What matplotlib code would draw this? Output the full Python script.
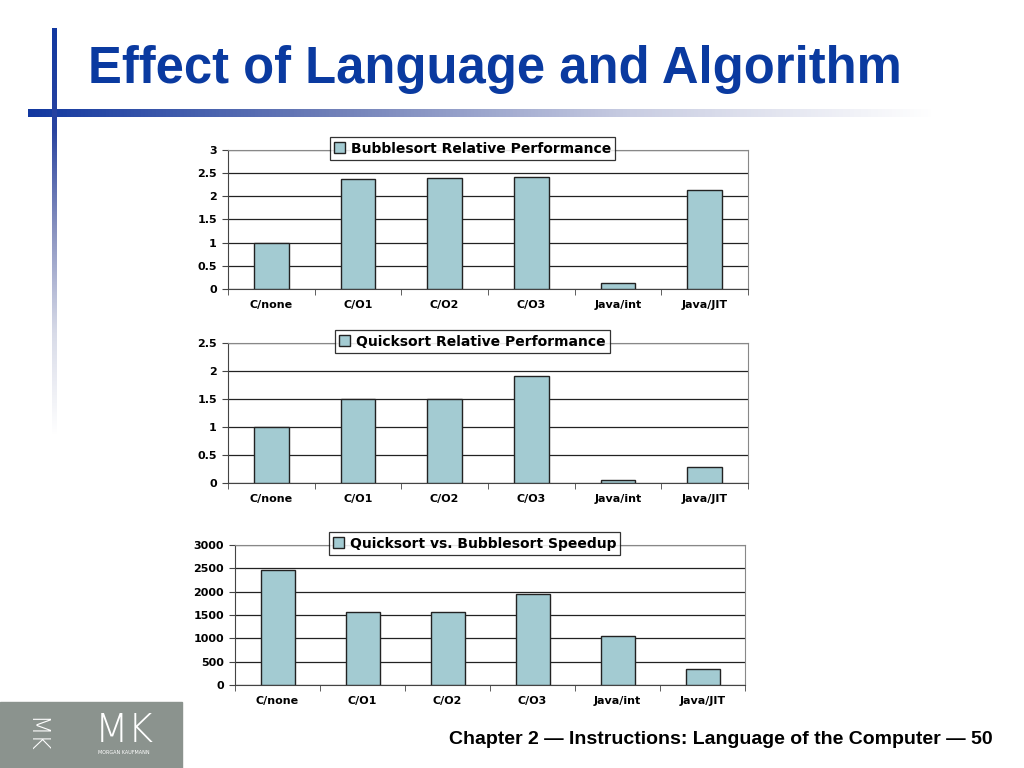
import matplotlib.pyplot as plt
import numpy as np
from matplotlib.patches import Rectangle

CATEGORIES = ["C/none", "C/O1", "C/O2", "C/O3", "Java/int", "Java/JIT"]
BUBBLE_PERF = [1.0, 2.37, 2.39, 2.41, 0.12, 2.13]
QUICK_PERF = [1.0, 1.50, 1.50, 1.91, 0.05, 0.29]
SPEEDUP = [2468, 1562, 1555, 1955, 1050, 338]

PANELS = [
    ("Bubblesort Relative Performance", BUBBLE_PERF, [0, 0.5, 1, 1.5, 2, 2.5, 3],
     ["0", "0.5", "1", "1.5", "2", "2.5", "3"]),
    ("Quicksort Relative Performance", QUICK_PERF, [0, 0.5, 1, 1.5, 2, 2.5],
     ["0", "0.5", "1", "1.5", "2", "2.5"]),
    ("Quicksort vs. Bubblesort Speedup", SPEEDUP, [0, 500, 1000, 1500, 2000, 2500, 3000],
     ["0", "500", "1000", "1500", "2000", "2500", "3000"]),
]

BAR_COLOR = "#a3cbd2"
TITLE_BLUE = "#0a3aa0"

W, H = 1024, 768
fig = plt.figure(figsize=(W / 100, H / 100), dpi=100)


def px_axes(left, top, right, bottom):
    return fig.add_axes([left / W, 1 - bottom / H, (right - left) / W, (bottom - top) / H])


# --- slide decoration -------------------------------------------------------
deco = fig.add_axes([0, 0, 1, 1])
deco.set_xlim(0, W)
deco.set_ylim(H, 0)
deco.axis("off")

# horizontal gradient bar under the title
hgrad = np.linspace(0, 1, 256).reshape(1, -1)
hcmap = plt.matplotlib.colors.LinearSegmentedColormap.from_list(
    "hb", ["#1238a0", "#6f7fb8", "#c9cde2", "#ffffff"])
deco.imshow(hgrad, cmap=hcmap, extent=(28, 935, 117, 109), aspect="auto")

# vertical gradient line on the left
vgrad = np.linspace(0, 1, 256).reshape(-1, 1)
vcmap = plt.matplotlib.colors.LinearSegmentedColormap.from_list(
    "vb", ["#1238a0", "#2a44a0", "#8a93c0", "#d8dbe8", "#ffffff"])
deco.imshow(vgrad, cmap=vcmap, extent=(52, 57, 435, 28), aspect="auto")

deco.text(88, 83, "Effect of Language and Algorithm", fontsize=36.5, fontweight="bold",
          color=TITLE_BLUE, family="Liberation Sans", va="baseline", ha="left")

# logo box bottom-left
deco.add_patch(Rectangle((0, 702), 182, 66, color="#8b938e"))
deco.text(124, 731, "MK", fontsize=28, color="white", family="DejaVu Sans",
          fontweight="light", ha="center", va="center")
deco.text(124, 752, "MORGAN KAUFMANN", fontsize=3.5, color="white", ha="center", va="center")
deco.text(35, 735, "MK", fontsize=17, color="white", rotation=-90,
          fontweight="light", ha="center", va="center")

deco.text(993, 739, "Chapter 2 \u2014 Instructions: Language of the Computer \u2014 50",
          fontsize=14, fontweight="bold", color="black", family="Liberation Sans",
          ha="right", va="center")

# --- the three bar charts ---------------------------------------------------
boxes = [(228, 150, 748, 289), (228, 343, 748, 483), (235, 545, 745, 685)]
x = np.arange(len(CATEGORIES))

for (label, values, yticks, ylabels), box in zip(PANELS, boxes):
    ax = px_axes(*box)
    ax.bar(x, values, width=0.4, color=BAR_COLOR, edgecolor="#222222", linewidth=1.0,
           label=label, zorder=3)
    ax.set_xlim(-0.5, len(CATEGORIES) - 0.5)
    ax.set_ylim(yticks[0], yticks[-1])
    ax.set_yticks(yticks)
    ax.set_yticklabels(ylabels)
    ax.set_xticks(x)
    ax.set_xticklabels(CATEGORIES)
    ax.set_xticks(np.arange(-0.5, len(CATEGORIES)), minor=True)
    ax.tick_params(axis="x", which="major", length=0, pad=8)
    ax.tick_params(axis="x", which="minor", length=4, direction="out", color="#444444")
    ax.tick_params(axis="y", length=4, direction="out", pad=4, color="#444444")
    for t in ax.get_xticklabels() + ax.get_yticklabels():
        t.set_fontsize(8)
        t.set_fontweight("bold")
        t.set_family("DejaVu Sans")
    ax.grid(axis="y", color="#222222", linewidth=0.9, zorder=0)
    ax.set_axisbelow(True)
    for side in ["top", "right"]:
        ax.spines[side].set_color("#888888")
        ax.spines[side].set_linewidth(0.8)
    ax.spines["left"].set_color("#444444")
    ax.spines["bottom"].set_color("#444444")
    leg = ax.legend(loc="center", bbox_to_anchor=(0.47, 1.01),
                    prop={"weight": "bold", "size": 10, "family": "DejaVu Sans"},
                    frameon=True, fancybox=False, handlelength=0.8, handleheight=0.8,
                    handletextpad=0.4, borderpad=0.3, borderaxespad=0)
    leg.get_frame().set_edgecolor("black")
    leg.get_frame().set_linewidth(0.9)
    leg.set_zorder(10)

fig.savefig("out.png", dpi=100)
